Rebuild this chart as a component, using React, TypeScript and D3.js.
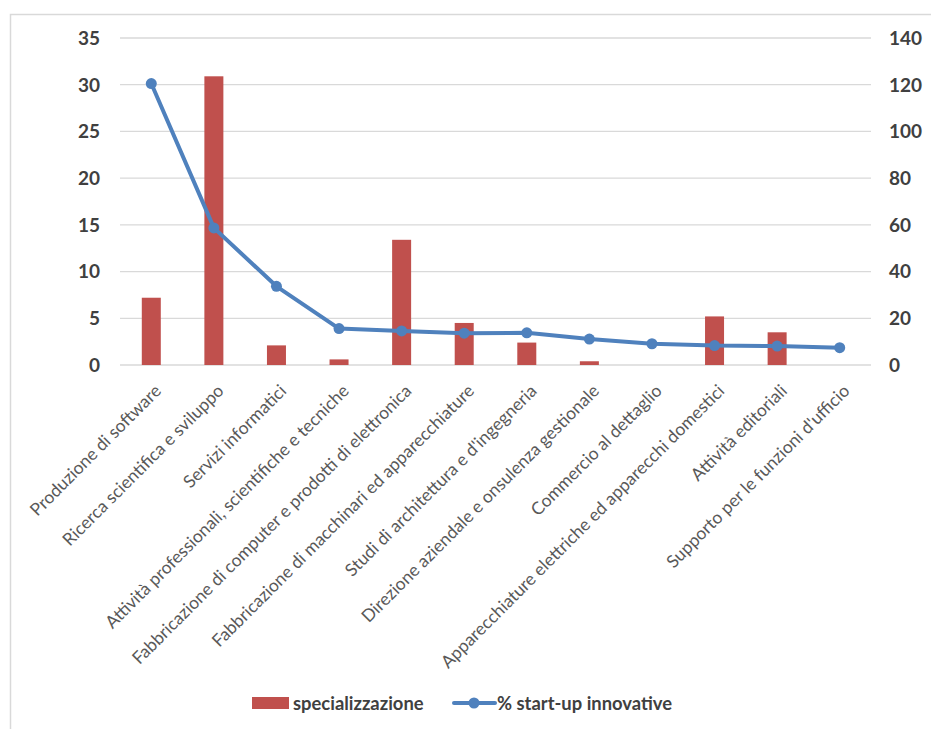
import React, { useEffect, useRef } from "react";
import * as d3 from "d3";

const categories = [
  "Produzione di software",
  "Ricerca scientifica e sviluppo",
  "Servizi informatici",
  "Attività professionali, scientifiche e tecniche",
  "Fabbricazione di computer e prodotti di elettronica",
  "Fabbricazione di macchinari ed apparecchiature",
  "Studi di architettura e d'ingegneria",
  "Direzione aziendale e onsulenza gestionale",
  "Commercio al dettaglio",
  "Apparecchiature elettriche ed apparecchi domestici",
  "Attività editoriali",
  "Supporto per le funzioni d'ufficio",
];
const specializzazione = [7.2, 30.9, 2.1, 0.6, 13.4, 4.5, 2.4, 0.4, 0, 5.2, 3.5, 0];
const startup = [120.5, 58.7, 33.7, 15.6, 14.6, 13.6, 13.8, 11.1, 9.1, 8.3, 8.1, 7.4];
const leftTicks = [0, 5, 10, 15, 20, 25, 30, 35];
const rightTicks = [0, 20, 40, 60, 80, 100, 120, 140];

const W = 931;
const H = 729;
const FONT = "Lato, 'Open Sans', sans-serif";

const App = () => {
  const ref = useRef<SVGSVGElement>(null);

  useEffect(() => {
    const svg = d3.select(ref.current);
    svg.selectAll("*").remove();

    const x = d3.scaleBand().domain(categories).range([120, 871]);
    const yL = d3.scaleLinear().domain([0, 35]).range([365, 38]);
    const yR = d3.scaleLinear().domain([0, 140]).range([365, 38]);

    // frame
    svg.append("rect")
      .attr("x", 10.5).attr("y", 14.5)
      .attr("width", 940).attr("height", 740)
      .attr("fill", "#fff").attr("stroke", "#d9d9d9").attr("stroke-width", 1.5);

    // gridlines
    svg.append("g").selectAll("line").data(leftTicks).join("line")
      .attr("x1", 120).attr("x2", 871)
      .attr("y1", d => yL(d)).attr("y2", d => yL(d))
      .attr("stroke", "#d9d9d9").attr("stroke-width", 1.3);

    // left ticks
    svg.append("g").selectAll("text").data(leftTicks).join("text")
      .attr("x", 100).attr("y", d => yL(d)).attr("dy", "0.36em")
      .attr("text-anchor", "end")
      .style("font", `bold 19px ${FONT}`).attr("fill", "#404040")
      .text(d => d);

    // right ticks
    svg.append("g").selectAll("text").data(rightTicks).join("text")
      .attr("x", 889).attr("y", d => yR(d)).attr("dy", "0.36em")
      .attr("text-anchor", "start")
      .style("font", `bold 19px ${FONT}`).attr("fill", "#404040")
      .text(d => d);

    // bars
    const bw = 19;
    svg.append("g").selectAll("rect").data(specializzazione).join("rect")
      .attr("x", (d, i) => x(categories[i])! + x.bandwidth() / 2 - bw / 2)
      .attr("y", d => yL(d))
      .attr("width", bw)
      .attr("height", d => yL(0) - yL(d))
      .attr("fill", "#c0504d");

    // line
    const cx = (i: number) => x(categories[i])! + x.bandwidth() / 2;
    const line = d3.line<number>().x((d, i) => cx(i)).y(d => yR(d));
    svg.append("path").datum(startup)
      .attr("d", line)
      .attr("fill", "none").attr("stroke", "#4f81bd")
      .attr("stroke-width", 4).attr("stroke-linejoin", "round");
    svg.append("g").selectAll("circle").data(startup).join("circle")
      .attr("cx", (d, i) => cx(i)).attr("cy", d => yR(d)).attr("r", 5.5)
      .attr("fill", "#4f81bd");

    // x labels
    svg.append("g").selectAll("text").data(categories).join("text")
      .attr("transform", d => `translate(${x(d)! + x.bandwidth() / 2 + 11},${392}) rotate(-45)`)
      .attr("text-anchor", "end")
      .style("font", `17.5px ${FONT}`).attr("fill", "#595959")
      .text(d => d);

    // legend
    const lg = svg.append("g");
    lg.append("rect").attr("x", 252).attr("y", 697).attr("width", 37).attr("height", 12).attr("fill", "#c0504d");
    lg.append("text").attr("x", 293).attr("y", 703).attr("dy", "0.36em")
      .style("font", `bold 18.4px ${FONT}`).attr("fill", "#404040").text("specializzazione");
    lg.append("line").attr("x1", 454).attr("x2", 495).attr("y1", 703).attr("y2", 703)
      .attr("stroke", "#4f81bd").attr("stroke-width", 4).attr("stroke-linecap", "round");
    lg.append("circle").attr("cx", 474).attr("cy", 703).attr("r", 5.5).attr("fill", "#4f81bd");
    lg.append("text").attr("x", 497).attr("y", 703).attr("dy", "0.36em")
      .style("font", `bold 18.4px ${FONT}`).attr("fill", "#404040").text("% start-up innovative");
  }, []);

  return (
    <div style={{ position: "fixed", left: 0, top: 0 }}>
      <svg ref={ref} width={W} height={H} style={{ display: "block", background: "#fff" }} />
    </div>
  );
};

export default App;
